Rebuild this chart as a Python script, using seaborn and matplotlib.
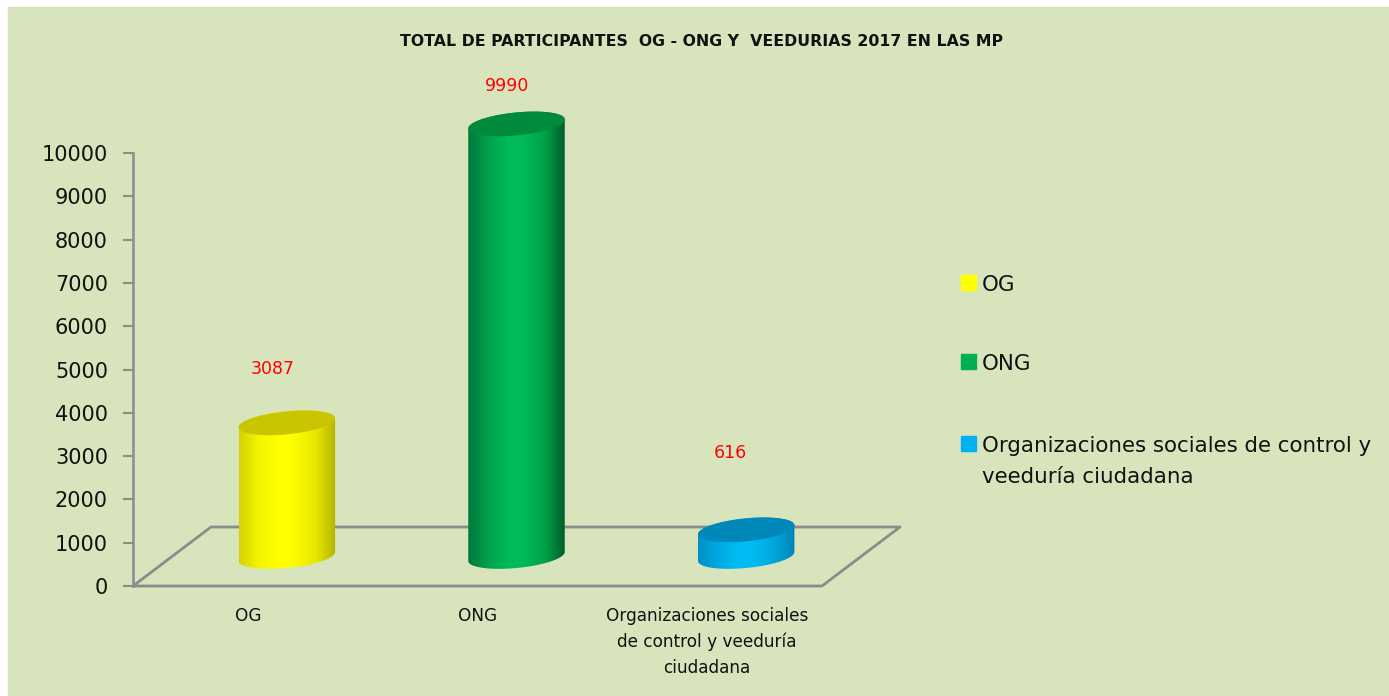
import numpy as np
import matplotlib
matplotlib.use("Agg")
import matplotlib.pyplot as plt
import seaborn as sns
from matplotlib.patches import Polygon, Rectangle
from matplotlib.lines import Line2D
from matplotlib.colors import LinearSegmentedColormap

# datos
categorias = ["OG", "ONG", "Organizaciones sociales de control y veeduría ciudadana"]
etiquetas_eje = ["OG", "ONG", "Organizaciones sociales\nde control y veeduría\nciudadana"]
etiquetas_leyenda = ["OG", "ONG", "Organizaciones sociales de control y\nveeduría ciudadana"]
participantes = [3087, 9990, 616]
titulo = "TOTAL DE PARTICIPANTES  OG - ONG Y  VEEDURIAS 2017 EN LAS MP"
yticks = list(range(0, 10001, 1000))

# estilo
colores = ["#FFFF00", "#00B050", "#00B0F0"]
degradados = [
    ["#D2D200", "#F4F400", "#FFFF00", "#FFFF00", "#E6E600", "#B4B400"],
    ["#00783A", "#00A04C", "#00BA58", "#00BC5A", "#00A048", "#005E2C"],
    ["#0090C4", "#00A8E0", "#00BCF4", "#00BCF4", "#00A6DC", "#0084B4"],
]
tapas = ["#C9C500", "#008A3E", "#0088B8"]
offsets_etiqueta = [(-14, 54), (-9, 38), (-16, 77)]
fondo = "#D8E4BC"
gris = "#8C8C8C"

W, H = 1389, 696
sns.set_theme(style="white")
plt.rcParams["font.family"] = ["DejaVu Sans"]

fig = plt.figure(figsize=(W / 100, H / 100), dpi=100)
fig.patch.set_facecolor("white")
fig.add_artist(Rectangle((8 / W, 0), (W - 8) / W, (H - 7) / H,
                         transform=fig.transFigure, color=fondo, zorder=-5))

# ejes frontales (eje y + categorias)
x0, y0, aw, ah = 133, 586, 689, 433   # pixeles desde arriba
dx, dy = 39, 29.5                      # media profundidad 3D
ax = fig.add_axes([x0 / W, 1 - y0 / H, aw / W, ah / H], zorder=1)
ax.patch.set_alpha(0)
ax.set_xlim(-0.5, 2.5)
ax.set_ylim(0, 10000)
ax.set_yticks(yticks)
ax.set_yticklabels([str(t) for t in yticks], fontsize=15, color="#111111")
ax.set_xticks(range(len(categorias)))
ax.set_xticklabels(etiquetas_eje, fontsize=12.2, color="#111111", linespacing=1.55)
ax.tick_params(axis="y", length=7, width=1.5, color=gris, pad=11, left=True)
ax.tick_params(axis="x", length=0, pad=15)
for lado in ["top", "right", "bottom"]:
    ax.spines[lado].set_visible(False)
ax.spines["left"].set_color(gris)
ax.spines["left"].set_linewidth(1.8)
ax.grid(False)

# suelo 3D
px = [x0, x0 + aw, x0 + aw + 2 * dx, x0 + 2 * dx, x0]
py = [y0, y0, y0 - 2 * dy, y0 - 2 * dy, y0]
fig.add_artist(Line2D([p / W for p in px], [1 - p / H for p in py],
                      transform=fig.transFigure, color=gris, lw=2, zorder=1.5))

# ejes de las barras (desplazados en profundidad)
ax2 = fig.add_axes([(x0 + dx) / W, 1 - (y0 - dy) / H, aw / W, ah / H], zorder=2)
ax2.patch.set_alpha(0)
sns.barplot(x=categorias, y=participantes, hue=categorias, palette=colores,
            width=0.42, saturation=1, legend=False, ax=ax2)
ax2.set_xlim(-0.5, 2.5)
ax2.set_ylim(0, 10000)
ax2.axis("off")

unid_px = 10000 / ah
b = 11.5 * unid_px
t_inf = np.linspace(np.pi, 2 * np.pi, 60)
t_sup = np.linspace(0, np.pi, 60)
t_full = np.linspace(0, 2 * np.pi, 120)

for i, barra in enumerate(ax2.patches):
    bx, bw, bh = barra.get_x(), barra.get_width(), barra.get_height()
    barra.set_visible(False)
    a = bw / 2
    cx = bx + a
    s = 9 * unid_px / bw

    def elipse(cy, t):
        x = cx + a * np.cos(t)
        y = cy + b * np.sin(t) + s * (x - cx)
        return np.column_stack([x, y])

    cuerpo = np.vstack([elipse(0, t_inf), elipse(bh, t_sup)])
    poly = Polygon(cuerpo, closed=True, facecolor="none", edgecolor="none",
                   transform=ax2.transData, clip_on=False)
    ax2.add_patch(poly)
    cmap = LinearSegmentedColormap.from_list(
        f"c{i}", list(zip([0, 0.2, 0.42, 0.55, 0.8, 1], degradados[i])))
    im = ax2.imshow(np.linspace(0, 1, 256)[None, :], cmap=cmap, aspect="auto",
                    extent=[bx, bx + bw, -2 * b - s * a, bh + 2 * b + s * a],
                    interpolation="bilinear", zorder=2)
    im.set_clip_box(fig.bbox)
    im.set_clip_path(poly)
    ax2.add_patch(Polygon(elipse(bh, t_full), closed=True, facecolor=tapas[i],
                          edgecolor="none", zorder=3, clip_on=False))
    ox, oy = offsets_etiqueta[i]
    ax2.annotate(str(participantes[i]), xy=(cx, bh), xytext=(ox, oy),
                 textcoords="offset pixels", ha="center", va="center",
                 color="#FF0000", fontsize=12.5, annotation_clip=False)

ax2.set_xlim(-0.5, 2.5)
ax2.set_ylim(0, 10000)

# leyenda
centros_leyenda = [283, 362, 443]
salto_linea = 32
for i, yc in enumerate(centros_leyenda):
    fig.add_artist(Rectangle((961 / W, 1 - (yc + 7.5) / H), 15 / W, 15 / H,
                             transform=fig.transFigure, color=colores[i], zorder=3))
    n_extra = etiquetas_leyenda[i].count("\n")
    fig.text(982 / W, 1 - (yc + 8 + n_extra * salto_linea) / H, etiquetas_leyenda[i],
             ha="left", va="baseline", fontsize=15.4, color="#111111", linespacing=1.68)

fig.text(701 / W, 1 - 42 / H, titulo, ha="center", va="center",
         fontsize=11.35, fontweight="bold", color="#111111")

fig.savefig("out.png", dpi=100, facecolor=fig.get_facecolor())
